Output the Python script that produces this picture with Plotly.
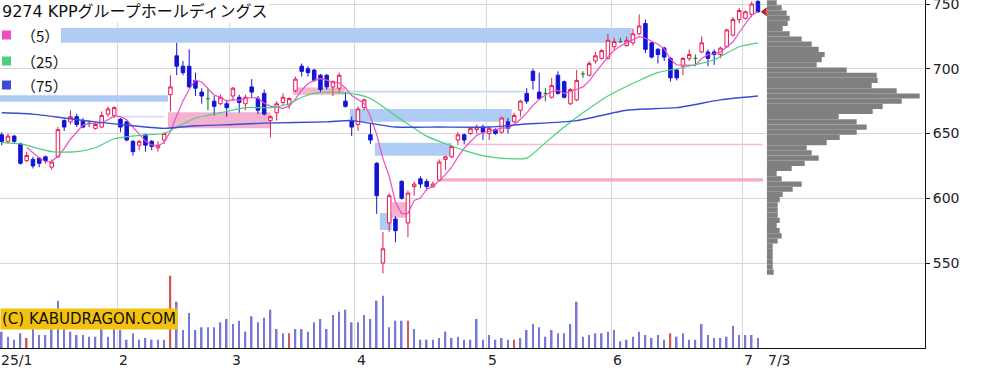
import pandas as pd
import plotly.graph_objects as go

# ---------------- data ----------------
title_text = "9274 KPPグループホールディングス"
month_labels = ["25/1", "2", "3", "4", "5", "6", "7"]
month_start_idx = [0, 19, 37, 57, 78, 98, 119]
last_date_label = "7/3"
watermark = "(C) KABUDRAGON.COM"
ma_labels = ["（5）", "（25）", "（75）"]

open_ = [649, 644, 648, 642, 629, 630, 631, 632, 624, 632,
         660, 659, 663, 660, 658, 654, 655, 665, 664, 661,
         659, 644, 641, 649, 644, 639, 645, 680, 710, 702,
         702, 691, 682, 677, 675, 673, 673, 679, 678, 673,
         686, 677, 681, 660, 666, 674, 672, 683, 702, 700,
         699, 695, 695, 686, 685, 675, 660, 657, 670, 649,
         627, 550, 581, 584, 613, 581, 609, 615, 613, 609,
         614, 630, 632, 645, 649, 650, 653, 655, 650, 653,
         651, 659, 659, 668, 681, 698, 682, 681, 678, 695,
         690, 673, 676, 696, 695, 706, 708, 708, 717, 721,
         718, 720, 727, 735, 720, 715, 716, 708, 699, 702,
         708, 708, 713, 713, 713, 711, 717, 726, 738, 739,
         742, 752]
close = [644, 648, 644, 627, 633, 625, 627, 629, 628, 653,
         655, 663, 657, 655, 658, 657, 664, 669, 670, 655,
         645, 636, 644, 641, 640, 641, 650, 686, 702, 697,
         686, 685, 679, 677, 671, 678, 670, 685, 674, 678,
         682, 668, 665, 663, 673, 678, 677, 692, 698, 697,
         691, 684, 686, 690, 695, 671, 655, 669, 676, 645,
         602, 561, 602, 575, 600, 604, 611, 611, 609, 611,
         628, 632, 640, 649, 645, 654, 655, 651, 654, 650,
         662, 654, 664, 675, 675, 691, 677, 681, 687, 681,
         678, 684, 691, 696, 704, 710, 714, 722, 721, 721,
         722, 727, 733, 715, 709, 711, 709, 693, 693, 708,
         711, 708, 720, 708, 711, 716, 730, 738, 745, 744,
         750, 744]
high = [651, 650, 649, 643, 636, 632, 632, 633, 630, 655,
        661, 668, 665, 662, 660, 659, 667, 671, 671, 662,
        660, 645, 645, 650, 645, 644, 651, 695, 720, 706,
        715, 697, 685, 685, 679, 680, 676, 686, 680, 680,
        692, 679, 684, 664, 675, 681, 678, 694, 704, 702,
        700, 696, 696, 691, 697, 682, 663, 671, 677, 658,
        628, 574, 604, 586, 614, 606, 613, 617, 615, 613,
        630, 633, 641, 651, 650, 655, 657, 657, 655, 654,
        663, 662, 666, 676, 685, 700, 697, 685, 693, 698,
        691, 685, 699, 698, 706, 713, 715, 727, 724, 724,
        725, 731, 742, 738, 721, 716, 717, 709, 700, 709,
        715, 711, 725, 715, 715, 717, 731, 740, 747, 745,
        752, 753]
low = [641, 642, 642, 626, 628, 623, 624, 627, 622, 631,
       652, 657, 655, 654, 655, 653, 654, 663, 662, 651,
       644, 633, 637, 636, 637, 636, 642, 667, 695, 695,
       685, 679, 673, 668, 664, 672, 663, 675, 666, 668,
       678, 665, 664, 647, 660, 672, 669, 682, 694, 694,
       690, 682, 684, 679, 681, 670, 648, 652, 668, 642,
       588, 542, 574, 566, 599, 570, 602, 608, 606, 608,
       613, 622, 631, 641, 642, 649, 650, 645, 645, 649,
       650, 650, 658, 663, 673, 684, 676, 675, 677, 680,
       677, 672, 675, 693, 694, 704, 707, 707, 714, 720,
       717, 718, 726, 712, 708, 704, 706, 690, 691, 695,
       706, 702, 712, 702, 703, 708, 716, 725, 735, 738,
       740, 743]
volume = [163, 113, 83, 147, 100, 190, 130, 130, 223, 473,
          190, 163, 130, 130, 113, 113, 207, 113, 190, 180,
          83, 147, 83, 100, 83, 83, 83, 723, 463, 180,
          350, 180, 207, 207, 207, 257, 290, 240, 273, 163,
          317, 257, 303, 383, 190, 147, 147, 190, 190, 163,
          257, 290, 190, 330, 363, 383, 257, 257, 330, 290,
          473, 523, 207, 273, 273, 273, 190, 83, 83, 83,
          100, 163, 100, 113, 83, 83, 290, 83, 130, 83,
          100, 83, 83, 100, 180, 240, 207, 113, 180, 147,
          147, 240, 463, 113, 130, 147, 147, 163, 180, 67,
          83, 113, 163, 130, 100, 130, 83, 147, 113, 147,
          83, 83, 240, 130, 100, 100, 113, 223, 130, 130,
          130, 100]
vol_red_idx = [4, 27, 46, 65, 82, 107]

ma25_idx = [0, 3, 8, 12, 15, 18, 23, 26, 28, 31, 33, 36, 39, 43, 46, 48, 50, 53,
            57, 59, 63, 68, 74, 78, 84, 87, 90, 93, 97, 102, 105, 109, 114, 118, 121]
ma25_val = [643, 642, 636, 636, 639, 646, 649, 650, 655, 662, 664, 667, 670, 670, 673, 678, 681, 682,
            680, 677, 664, 648, 637, 632, 631, 643, 655, 666, 679, 691, 697, 701, 707, 717, 720]
ma75_idx = [0, 5, 10, 15, 21, 26, 31, 37, 42, 52, 56, 63, 70, 78, 83, 92, 100, 108, 115, 121]
ma75_val = [666, 665, 662, 659, 656, 654, 656, 657, 658, 659, 660, 655, 655, 655, 657, 660, 668, 670, 676, 679]

profile_price = [751, 747, 743, 739, 735, 731, 727, 723, 719, 715, 711, 707, 703, 699,
                 695, 691, 687, 683, 679, 675, 671, 667, 663, 659, 655, 651, 647, 643,
                 639, 635, 631, 627, 623, 619, 615, 611, 607, 603, 599, 595, 591, 587,
                 583, 579, 575, 571, 567, 563, 559, 555, 551, 547, 543]
profile_vol = [1000, 1500, 2000, 2300, 2100, 1600, 2300, 3500, 4500, 5200, 5800, 5500, 5000, 8000,
               11000, 11100, 10500, 13000, 15300, 13500, 11600, 10600, 7200, 9000, 10000, 9000, 7300, 6000,
               4000, 4500, 5200, 3800, 2500, 1000, 1500, 3500, 2600, 1600, 1300, 1100, 1100, 1100,
               1300, 1000, 1300, 1500, 1100, 600, 600, 600, 600, 600, 700]

# support / resistance zones: (start day, end day, low price, high price, colour)
zone_x0 = [-0.3, -0.3, 26.6, 46.6, 55.0, 55.7, 59.7, 60.5, 62.4, 18.4, 73.8, 69.8]
zone_x1 = [100.8, 26.6, 43.0, 54.9, 83.7, 81.6, 72.0, 62.4, 65.2, 26.1, 121.8, 121.8]
zone_lo = [720.0, 674.6, 654.0, 680.0, 681.6, 659.0, 632.8, 575.5, 585.0, 662.4, 640.9, 613.0]
zone_hi = [731.5, 679.6, 666.5, 685.5, 683.0, 669.0, 642.8, 588.6, 597.0, 663.8, 642.1, 615.4]
zone_col = ["#afcdf4", "#afcdf4", "#f4b2d0", "#f4b2d0", "#c4d8f4", "#afcdf4",
            "#afcdf4", "#afcdf4", "#f4b2d0", "#d6e0f4", "#f6bcd6", "#f4acca"]

# ---------------- styling / geometry ----------------
PLOT_W, PLOT_H = 925, 348
C_UP, C_DOWN, C_DOJI = "#e8194f", "#1414d6", "#1f8a2a"
C_MA = ["#f04cc4", "#48d07c", "#3a4cd2"]
FONT = "DejaVu Sans, Noto Sans CJK JP"


def px(x):
    return x / PLOT_W


def py(y):
    return 1 - y / PLOT_H


n = len(close)
day = list(range(n))
ma5 = pd.Series(close, dtype=float).rolling(5).mean()

fig = go.Figure()

# moving averages (behind candles)
fig.add_trace(go.Scatter(x=day, y=ma5, mode="lines", line=dict(color=C_MA[0], width=1.2)))
fig.add_trace(go.Scatter(x=ma25_idx, y=ma25_val, mode="lines",
                         line=dict(color=C_MA[1], width=1.2, shape="spline", smoothing=0.6)))
fig.add_trace(go.Scatter(x=ma75_idx, y=ma75_val, mode="lines",
                         line=dict(color=C_MA[2], width=1.4, shape="spline", smoothing=0.6)))

# candles
up = [i for i in day if close[i] > open_[i]]
dn = [i for i in day if close[i] < open_[i]]
dj = [i for i in day if close[i] == open_[i]]


def sub(arr, idx):
    return [arr[i] for i in idx]


fig.add_trace(go.Candlestick(
    x=up, open=sub(open_, up), high=sub(high, up), low=sub(low, up), close=sub(close, up),
    increasing=dict(line=dict(color=C_UP, width=1), fillcolor="white"),
    decreasing=dict(line=dict(color=C_UP, width=1), fillcolor="white")))
fig.add_trace(go.Candlestick(
    x=dn, open=sub(open_, dn), high=sub(high, dn), low=sub(low, dn), close=sub(close, dn),
    increasing=dict(line=dict(color=C_DOWN, width=1), fillcolor=C_DOWN),
    decreasing=dict(line=dict(color=C_DOWN, width=1), fillcolor=C_DOWN)))
fig.add_trace(go.Candlestick(
    x=dj, open=sub(open_, dj), high=sub(high, dj), low=sub(low, dj), close=sub(close, dj),
    increasing=dict(line=dict(color=C_DOJI, width=1.2), fillcolor=C_DOJI),
    decreasing=dict(line=dict(color=C_DOJI, width=1.2), fillcolor=C_DOJI)))

# volume
blue_idx = [i for i in day if i not in vol_red_idx]
fig.add_trace(go.Bar(x=blue_idx, y=sub(volume, blue_idx), yaxis="y2", width=0.26,
                     marker=dict(color="#7878d6", line=dict(width=0))))
fig.add_trace(go.Bar(x=vol_red_idx, y=sub(volume, vol_red_idx), yaxis="y2", width=0.26,
                     marker=dict(color="#d05a5a", line=dict(width=0))))

# price-by-volume profile
fig.add_trace(go.Bar(y=profile_price, x=profile_vol, orientation="h", xaxis="x2", yaxis="y",
                     width=4, marker=dict(color="#808080", line=dict(width=0))))

# last price marker
fig.add_trace(go.Scatter(x=[n + 0.4], y=[close[-1]], mode="markers", cliponaxis=False,
                         marker=dict(symbol="triangle-left", size=10, color="#ee1c1c",
                                     line=dict(color="#6a0000", width=1))))

shapes = []
for x0, x1, lo, hi, col in zip(zone_x0, zone_x1, zone_lo, zone_hi, zone_col):
    shapes.append(dict(type="rect", xref="x", yref="y", x0=x0, x1=x1, y0=lo, y1=hi,
                       fillcolor=col, line=dict(width=0), layer="between"))

# legend block
shapes.append(dict(type="rect", xref="paper", yref="paper", x0=px(0), x1=px(61),
                   y0=py(45), y1=py(26), fillcolor="white", line=dict(width=0), layer="above"))
legend_y = [35, 61, 85]
for cy, col, lab in zip(legend_y, C_MA, ma_labels):
    shapes.append(dict(type="rect", xref="paper", yref="paper", x0=px(2), x1=px(11),
                       y0=py(cy + 4.5), y1=py(cy - 4.5), fillcolor=col, line=dict(width=0),
                       layer="above"))

annotations = [
    dict(text=title_text, xref="paper", yref="paper", x=px(0), y=py(12), xanchor="left",
         yanchor="middle", showarrow=False, bgcolor="white", borderpad=1,
         font=dict(family=FONT, size=16, color="#111")),
    dict(text=watermark, xref="paper", yref="paper", x=px(0), y=py(318.5), xanchor="left",
         yanchor="middle", showarrow=False, bgcolor="#f4c20e", borderpad=1,
         font=dict(family="DejaVu Sans", size=15, color="#111")),
]
for cy, lab in zip(legend_y, ma_labels):
    annotations.append(dict(text=lab, xref="paper", yref="paper", x=px(19), y=py(cy + 1),
                            xanchor="left", yanchor="middle", showarrow=False,
                            font=dict(family="Noto Sans CJK JP", size=15, color="#111")))
for idx, lab in zip(month_start_idx, month_labels):
    annotations.append(dict(text=lab, xref="x", yref="paper", x=idx, y=0, xanchor="left",
                            yanchor="top", xshift=-3, yshift=-2, showarrow=False,
                            font=dict(family="DejaVu Sans", size=14, color="#222")))
annotations.append(dict(text=last_date_label, xref="x", yref="paper", x=n + 0.8, y=0,
                        xanchor="left", yanchor="top", xshift=-3, yshift=-2, showarrow=False,
                        font=dict(family="DejaVu Sans", size=14, color="#222")))

fig.update_layout(
    width=993, height=382,
    margin=dict(l=0, r=993 - PLOT_W, t=0, b=382 - PLOT_H, pad=0, autoexpand=False),
    paper_bgcolor="white", plot_bgcolor="white",
    showlegend=False, barmode="overlay", boxgap=0.25, boxgroupgap=0.25,
    xaxis=dict(range=[-0.272, 147.73], tickvals=[s - 0.5 for s in month_start_idx[1:]],
               showticklabels=False, ticks="", showgrid=True, gridcolor="#d8d8d8", gridwidth=1,
               zeroline=False, showline=True, linecolor="#111", linewidth=1, automargin=False,
               rangeslider=dict(visible=False), fixedrange=True),
    xaxis2=dict(domain=[766.7 / PLOT_W, 1.0], range=[0, 15830], anchor="y", visible=False,
                showgrid=False, zeroline=False, automargin=False),
    yaxis=dict(range=[484.4, 753.1], side="right", tickvals=[550, 600, 650, 700, 750],
               showgrid=True, gridcolor="#d8d8d8", gridwidth=1, zeroline=False, automargin=False,
               showline=True, linecolor="#111", linewidth=1, ticks="outside", ticklen=4,
               ticklabeloverflow="allow",
               tickcolor="#111", tickfont=dict(family="DejaVu Sans", size=14, color="#222")),
    yaxis2=dict(range=[0, PLOT_H * 10], overlaying="y", visible=False, showgrid=False,
                zeroline=False, automargin=False),
    shapes=shapes,
    annotations=annotations,
)

fig.write_html("out.html", config={"displayModeBar": False},
               post_script="document.body.style.margin='0';document.body.style.overflow='hidden';")
